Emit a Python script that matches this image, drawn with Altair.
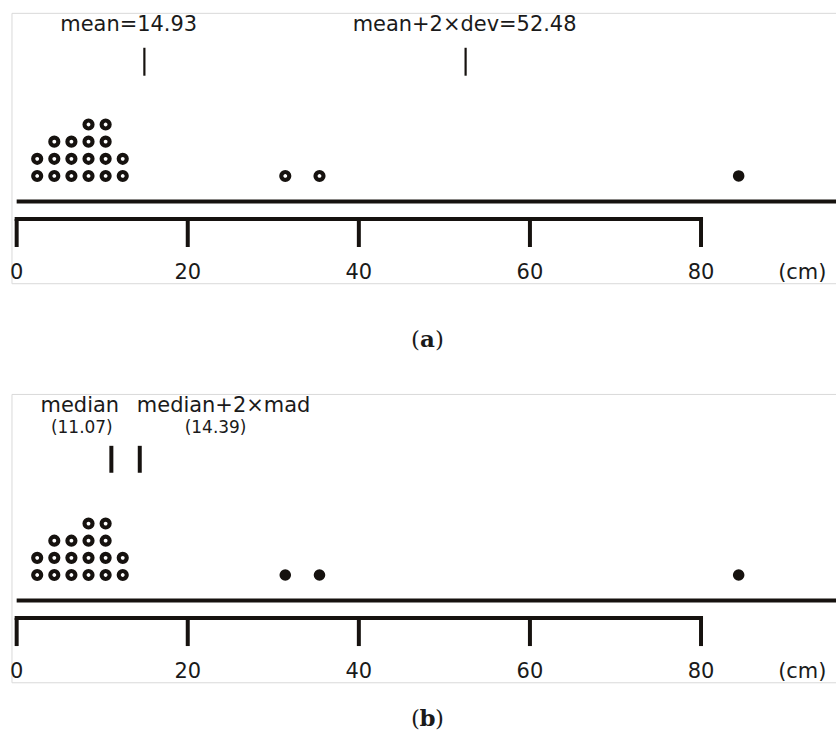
import altair as alt
import pandas as pd

# Lengths (cm) of the 21 specimens, one dot each
lengths = [2.4, 2.4,
           4.4, 4.4, 4.4,
           6.4, 6.4, 6.4,
           8.4, 8.4, 8.4, 8.4,
           10.4, 10.4, 10.4, 10.4,
           12.4, 12.4,
           31.4, 35.4, 84.4]

# Location / cut-off statistics for each panel
stats_a_names = ["mean", "mean+2×dev"]
stats_a_values = [14.93, 52.48]
stats_b_names = ["median", "median+2×mad"]
stats_b_values = [11.07, 14.39]

tick_values = [0, 20, 40, 60, 80]
unit_label = "(cm)"
panel_letters = ["a", "b"]

# ---- styling / layout -------------------------------------------------------
INK = "#16120f"
TEXT = "#1a1a1a"
FRAME = "#d9d9d9"
SANS = "DejaVu Sans"
SERIF = "DejaVu Serif"
W = 838
PX_PER_CM = 8.575
ORIGIN_PX = 16.7
STACK_STEP = 17.2

x_scale = alt.Scale(domain=[-ORIGIN_PX / PX_PER_CM, (W - ORIGIN_PX) / PX_PER_CM],
                    nice=False, zero=False)


def xq(field):
    return alt.X(field, type="quantitative", scale=x_scale, axis=None)


def xd(value):
    return alt.X(datum=value, type="quantitative", scale=x_scale, axis=None)


one = pd.DataFrame({"k": [0]})


def frame_lines(top, bottom):
    """Light frame: top, left and bottom edges (open on the right)."""
    style = dict(color=FRAME, strokeWidth=1)
    return [
        alt.Chart(one).mark_rule(**style).encode(
            x=alt.value(12), x2=alt.value(W), y=alt.value(top)),
        alt.Chart(one).mark_rule(**style).encode(
            x=alt.value(12), y=alt.value(top), y2=alt.value(bottom)),
        alt.Chart(one).mark_rule(**style).encode(
            x=alt.value(12), x2=alt.value(W), y=alt.value(bottom)),
    ]


def build_panel(letter, names, values, label_rows, tick_width, tick_y, dy,
                height, frame_top):
    upper = values[1]
    dots = pd.DataFrame({"length": lengths})
    dots["level"] = dots.groupby("length").cumcount()
    dots["outlier"] = dots["length"] > upper

    bottom = 175.5 + dy
    d0 = (bottom - height) / STACK_STEP
    d1 = d0 + height / STACK_STEP
    y_scale = alt.Scale(domain=[d0, d1], nice=False, zero=False)
    y_dot = alt.Y("level:Q", scale=y_scale, axis=None)

    layers = frame_lines(frame_top + 0.5, 283.5 + dy)

    # regular observations: rings; flagged observations: solid dots
    base = alt.Chart(dots)
    layers.append(
        base.transform_filter("!datum.outlier").mark_point(
            shape="circle", filled=False, size=64, strokeWidth=4.2,
            color=INK, opacity=1).encode(x=xq("length"), y=y_dot)
    )
    layers.append(
        base.transform_filter("datum.outlier").mark_circle(
            size=135, color=INK, opacity=1).encode(x=xq("length"), y=y_dot)
    )

    # statistic markers
    stats = pd.DataFrame({"name": names, "value": values})
    layers.append(
        alt.Chart(stats).mark_rule(strokeWidth=tick_width, color=INK).encode(
            x=xq("value"), y=alt.value(tick_y[0]), y2=alt.value(tick_y[1]))
    )

    # statistic labels
    for row in label_rows:
        for i, (txt, dx) in enumerate(zip(row["texts"], row["dx"])):
            lab = pd.DataFrame({"value": [values[i]], "label": [txt]})
            layers.append(
                alt.Chart(lab).mark_text(
                    font=SANS, fontSize=row["size"], color=TEXT,
                    align="center", baseline="alphabetic", dx=dx).encode(
                    x=xq("value"), y=alt.value(row["y"]), text="label:N")
            )

    # data baseline
    layers.append(
        alt.Chart(one).mark_rule(strokeWidth=4, color=INK).encode(
            x=xd(0), x2=alt.value(W), y=alt.value(201 + dy))
    )

    # scale bracket with ticks
    bracket = pd.DataFrame({"start": [min(tick_values)], "end": [max(tick_values)]})
    layers.append(
        alt.Chart(bracket).mark_rule(strokeWidth=4, color=INK, strokeCap="square").encode(
            x=xq("start"), x2="end:Q", y=alt.value(218.7 + dy))
    )
    ticks = pd.DataFrame({"tick": tick_values})
    layers.append(
        alt.Chart(ticks).mark_rule(strokeWidth=4, color=INK).encode(
            x=xq("tick"), y=alt.value(218.7 + dy), y2=alt.value(246.7 + dy))
    )
    layers.append(
        alt.Chart(ticks).mark_text(
            font=SANS, fontSize=21, color=TEXT, align="center",
            baseline="alphabetic").encode(
            x=xq("tick"), y=alt.value(279 + dy),
            text=alt.Text("tick:Q", format="d"))
    )
    layers.append(
        alt.Chart(one).mark_text(
            font=SANS, fontSize=21, color=TEXT, align="left",
            baseline="alphabetic").encode(
            x=alt.value(780), y=alt.value(279 + dy), text=alt.value(unit_label))
    )

    # caption "(a)" / "(b)" with a bold letter
    cap_y = 347
    cap_size = 23
    layers.append(
        alt.Chart(one).mark_text(font=SERIF, fontSize=cap_size, color=TEXT,
                                 align="right", baseline="alphabetic").encode(
            x=alt.value(421), y=alt.value(cap_y), text=alt.value("("))
    )
    layers.append(
        alt.Chart(one).mark_text(font=SERIF, fontSize=cap_size, fontWeight="bold",
                                 color=TEXT, align="center",
                                 baseline="alphabetic").encode(
            x=alt.value(428.5), y=alt.value(cap_y), text=alt.value(letter))
    )
    layers.append(
        alt.Chart(one).mark_text(font=SERIF, fontSize=cap_size, color=TEXT,
                                 align="left", baseline="alphabetic").encode(
            x=alt.value(436), y=alt.value(cap_y), text=alt.value(")"))
    )

    return alt.layer(*layers).properties(width=W, height=height)


labels_a = [{"texts": [f"{n}={v:.2f}" for n, v in zip(stats_a_names, stats_a_values)],
             "dx": [-15.7, -1], "y": 30, "size": 21}]
labels_b = [{"texts": stats_b_names, "dx": [-31.6, 84], "y": 32, "size": 21},
            {"texts": [f"({v:.2f})" for v in stats_b_values],
             "dx": [-29.6, 76], "y": 53, "size": 17}]

panel_a = build_panel(panel_letters[0], stats_a_names, stats_a_values, labels_a,
                      tick_width=2.2, tick_y=(47, 75), dy=0, height=380,
                      frame_top=12)
panel_b = build_panel(panel_letters[1], stats_b_names, stats_b_values, labels_b,
                      tick_width=4, tick_y=(66, 93), dy=20, height=365,
                      frame_top=14)

chart = alt.vconcat(panel_a, panel_b, spacing=0, bounds="flush").properties(
    padding=0, background="white"
).configure_view(stroke=None)

chart.save("out.html", embed_options={"renderer": "svg", "actions": False})
